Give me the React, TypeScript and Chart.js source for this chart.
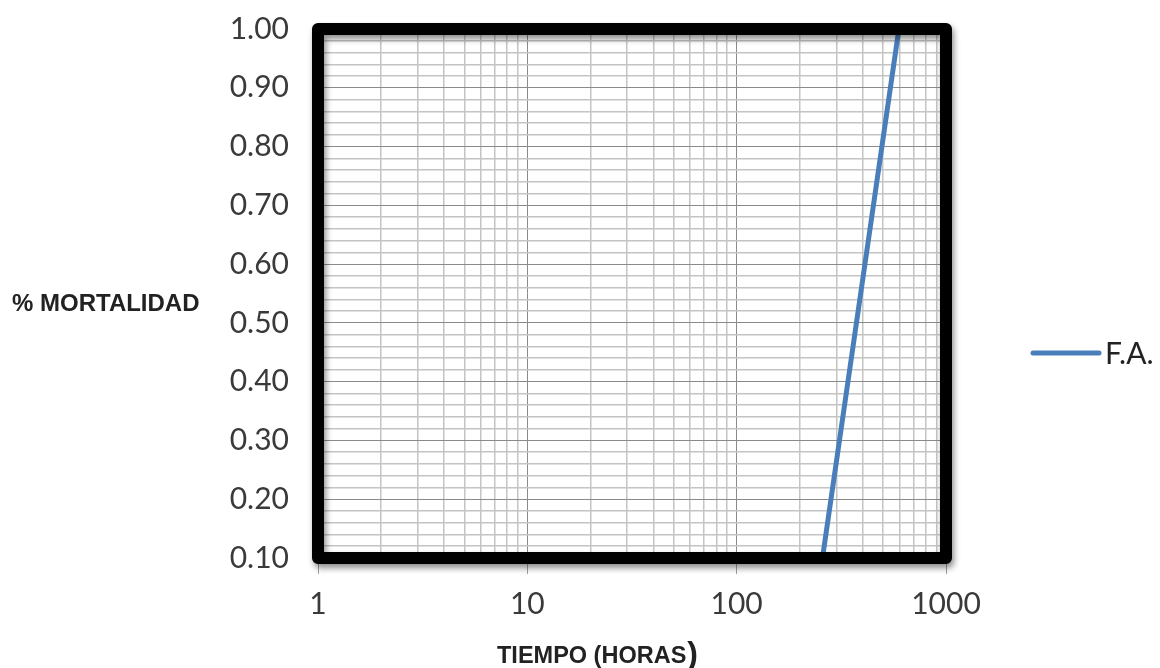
import React, { useEffect, useRef } from "react";
import { Chart, registerables } from "chart.js";

Chart.register(...registerables);

const seriesLabel = "F.A.";
const timeHours = [257, 590];
const mortality = [0.1, 0.99];

const xMajorTicks = [1, 10, 100, 1000];
const xMinorMultipliers = [2, 3, 4, 5, 6, 7, 8, 9];
const yTickLabels = ["0.10", "0.20", "0.30", "0.40", "0.50", "0.60", "0.70", "0.80", "0.90", "1.00"];
const yMinorPerMajor = 5;

const yAxisTitle = "% MORTALIDAD";
const xAxisTitle = "TIEMPO (HORAS";
const xAxisTitleEnd = ")";

const tickFont = { family: "Lato, 'Open Sans', sans-serif", size: 30 };
const tickColor = "#3a3a3a";

const xGridValues: number[] = [];
xMajorTicks.forEach((m, i) => {
  xGridValues.push(m);
  if (i < xMajorTicks.length - 1) xMinorMultipliers.forEach((k) => xGridValues.push(m * k));
});
const yMajorValues = yTickLabels.map((s) => parseFloat(s));
const yGridValues: number[] = [];
yMajorValues.forEach((v, i) => {
  yGridValues.push(v);
  if (i < yMajorValues.length - 1) {
    const step = (yMajorValues[i + 1] - v) / yMinorPerMajor;
    for (let k = 1; k < yMinorPerMajor; k++) yGridValues.push(+(v + step * k).toFixed(4));
  }
});
const isXMajor = (v: number) => xMajorTicks.some((m) => Math.abs(m - v) < 1e-9);
const isYMajor = (v: number) => yMajorValues.some((m) => Math.abs(m - v) < 1e-6);

const decor = {
  id: "decor",
  afterDraw(chart: any) {
    const { ctx, chartArea: a } = chart;
    ctx.save();
    ctx.shadowColor = "rgba(0,0,0,0.45)";
    ctx.shadowBlur = 6;
    ctx.shadowOffsetX = 2;
    ctx.shadowOffsetY = 4;
    ctx.strokeStyle = "#000";
    ctx.lineWidth = 12;
    ctx.lineJoin = "round";
    ctx.strokeRect(a.left, a.top, a.right - a.left, a.bottom - a.top);
    ctx.restore();

    ctx.save();
    ctx.fillStyle = "#222";
    ctx.font = "bold 24px 'Liberation Sans', Arial, sans-serif";
    ctx.textAlign = "left";
    ctx.textBaseline = "alphabetic";
    ctx.fillText(yAxisTitle, 12, 311);

    ctx.font = "bold 23.5px 'Liberation Sans', Arial, sans-serif";
    const w = ctx.measureText(xAxisTitle).width;
    const startX = 497;
    ctx.fillText(xAxisTitle, startX, 663);
    ctx.font = "bold 32px 'Liberation Sans', Arial, sans-serif";
    ctx.fillText(xAxisTitleEnd, startX + w + 1, 664);

    const ds = chart.data.datasets[0];
    ctx.strokeStyle = ds.borderColor;
    ctx.lineWidth = 5;
    ctx.lineCap = "round";
    ctx.beginPath();
    ctx.moveTo(1033, 353);
    ctx.lineTo(1099, 353);
    ctx.stroke();
    ctx.fillStyle = "#222";
    ctx.font = "30px Lato, 'Open Sans', sans-serif";
    ctx.textBaseline = "middle";
    ctx.fillText(ds.label, 1105, 354);
    ctx.restore();
  },
};

export default function App() {
  const ref = useRef<HTMLCanvasElement>(null);
  useEffect(() => {
    if (!ref.current) return;
    const chart = new Chart(ref.current, {
      type: "line",
      data: {
        datasets: [
          {
            label: seriesLabel,
            data: timeHours.map((x, i) => ({ x, y: mortality[i] })),
            borderColor: "#4A7EBB",
            borderWidth: 5,
            borderCapStyle: "round",
            pointRadius: 0,
            fill: false,
          },
        ],
      },
      options: {
        animation: false,
        responsive: false,
        devicePixelRatio: 1,
        layout: { padding: { left: 0, right: 214, top: 29, bottom: 0 } },
        plugins: { legend: { display: false }, tooltip: { enabled: false } },
        scales: {
          x: {
            type: "logarithmic",
            min: 1,
            max: 1000,
            afterBuildTicks: (s: any) => {
              s.ticks = xGridValues.map((v) => ({ value: v }));
            },
            afterFit: (s: any) => {
              s.height = 110;
              s.paddingLeft = 0;
              s.paddingRight = 0;
            },
            ticks: {
              autoSkip: false,
              maxRotation: 0,
              minRotation: 0,
              padding: 12,
              font: tickFont,
              color: tickColor,
              callback: (v: any) => (isXMajor(Number(v)) ? String(Number(v)) : ""),
            },
            grid: {
              color: (c: any) => (isXMajor(c.tick?.value) ? "#8a8a8a" : "#c4c4c4"),
              lineWidth: (c: any) => (isXMajor(c.tick?.value) ? 1 : 1.5),
              tickLength: 16,
              tickColor: (c: any) => (isXMajor(c.tick?.value) ? "#a0a0a0" : "rgba(0,0,0,0)"),
            },
            border: { display: false },
          },
          y: {
            type: "linear",
            min: 0.1,
            max: 1.0,
            afterBuildTicks: (s: any) => {
              s.ticks = yGridValues.map((v) => ({ value: v }));
            },
            afterFit: (s: any) => {
              s.width = 318;
              s.paddingTop = 0;
              s.paddingBottom = 0;
            },
            ticks: {
              autoSkip: false,
              padding: 29,
              font: tickFont,
              color: tickColor,
              callback: (v: any) => {
                const i = yMajorValues.findIndex((m) => Math.abs(m - Number(v)) < 1e-6);
                return i >= 0 ? yTickLabels[i] : "";
              },
            },
            grid: {
              color: (c: any) => (isYMajor(c.tick?.value) ? "#8a8a8a" : "#c4c4c4"),
              lineWidth: (c: any) => (isYMajor(c.tick?.value) ? 1 : 1.5),
              drawTicks: false,
            },
            border: { display: false },
          },
        },
      },
      plugins: [decor],
    } as any);
    return () => chart.destroy();
  }, []);
  return (
    <div style={{ position: "fixed", left: 0, top: 0, width: 1160, height: 668, background: "#fff" }}>
      <canvas ref={ref} width={1160} height={668} />
    </div>
  );
}
